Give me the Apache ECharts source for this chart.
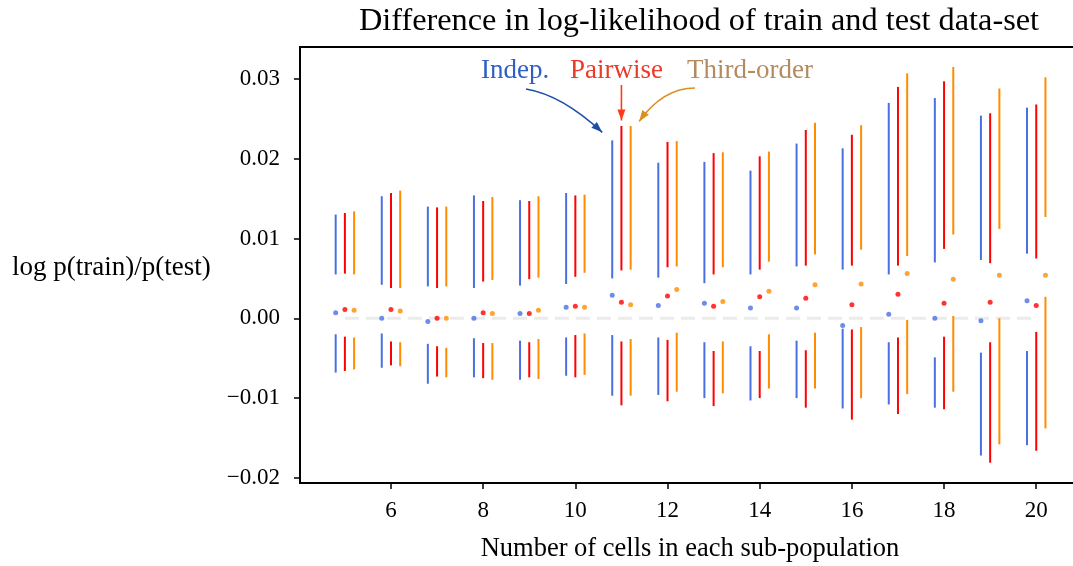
<!DOCTYPE html>
<html>
<head>
<meta charset="utf-8">
<title>Difference in log-likelihood of train and test data-set</title>
<script src="https://cdn.jsdelivr.net/npm/echarts@6/dist/echarts.min.js"></script>
<style>
  html, body { margin: 0; padding: 0; background: #fff; }
  #chart { width: 1073px; height: 566px; }
</style>
</head>
<body>
<div id="chart"></div>
<script>
// Number of cells in each sub-population
const cells = [5, 6, 7, 8, 9, 10, 11, 12, 13, 14, 15, 16, 17, 18, 19, 20];

// Independent model: mean and the two whisker pieces (upper: lo..hi, lower: hi..lo)
const indepMean  = [0.0007, 0.0000, -0.0004, 0.0000, 0.0006, 0.0014, 0.0029, 0.0016, 0.0019, 0.0013, 0.0013, -0.0009, 0.0005, 0.0000, -0.0003, 0.0022];
const indepUpLo  = [0.0055, 0.0042, 0.0040, 0.0038, 0.0041, 0.0043, 0.0050, 0.0051, 0.0044, 0.0055, 0.0065, 0.0061, 0.0055, 0.0070, 0.0073, 0.0081];
const indepUpHi  = [0.0130, 0.0153, 0.0140, 0.0154, 0.0148, 0.0157, 0.0223, 0.0195, 0.0196, 0.0185, 0.0219, 0.0213, 0.0270, 0.0276, 0.0254, 0.0264];
const indepLoHi  = [-0.0020, -0.0019, -0.0032, -0.0025, -0.0028, -0.0024, -0.0021, -0.0024, -0.0030, -0.0035, -0.0028, -0.0013, -0.0030, -0.0049, -0.0043, -0.0041];
const indepLoLo  = [-0.0068, -0.0062, -0.0082, -0.0074, -0.0077, -0.0072, -0.0097, -0.0096, -0.0100, -0.0103, -0.0100, -0.0113, -0.0108, -0.0112, -0.0172, -0.0159];

// Pairwise model
const pairMean   = [0.0011, 0.0011, 0.0000, 0.0007, 0.0006, 0.0015, 0.0020, 0.0028, 0.0015, 0.0027, 0.0025, 0.0017, 0.0030, 0.0019, 0.0020, 0.0016];
const pairUpLo   = [0.0056, 0.0038, 0.0038, 0.0046, 0.0049, 0.0052, 0.0060, 0.0064, 0.0055, 0.0061, 0.0066, 0.0066, 0.0066, 0.0087, 0.0069, 0.0075];
const pairUpHi   = [0.0132, 0.0157, 0.0139, 0.0147, 0.0147, 0.0154, 0.0241, 0.0221, 0.0207, 0.0203, 0.0236, 0.0230, 0.0290, 0.0297, 0.0257, 0.0268];
const pairLoHi   = [-0.0023, -0.0029, -0.0035, -0.0031, -0.0030, -0.0021, -0.0029, -0.0027, -0.0041, -0.0041, -0.0040, -0.0014, -0.0024, -0.0023, -0.0030, -0.0017];
const pairLoLo   = [-0.0066, -0.0059, -0.0073, -0.0075, -0.0074, -0.0074, -0.0109, -0.0104, -0.0110, -0.0100, -0.0112, -0.0127, -0.0120, -0.0114, -0.0181, -0.0166];

// Third-order model
const thirdMean  = [0.0010, 0.0009, 0.0000, 0.0006, 0.0010, 0.0014, 0.0017, 0.0036, 0.0021, 0.0034, 0.0042, 0.0043, 0.0056, 0.0049, 0.0054, 0.0054];
const thirdUpLo  = [0.0055, 0.0038, 0.0040, 0.0048, 0.0051, 0.0057, 0.0061, 0.0065, 0.0064, 0.0071, 0.0080, 0.0086, 0.0078, 0.0105, 0.0112, 0.0127];
const thirdUpHi  = [0.0134, 0.0160, 0.0140, 0.0152, 0.0153, 0.0155, 0.0241, 0.0222, 0.0208, 0.0209, 0.0245, 0.0242, 0.0307, 0.0315, 0.0288, 0.0302];
const thirdLoHi  = [-0.0024, -0.0030, -0.0037, -0.0031, -0.0026, -0.0019, -0.0026, -0.0018, -0.0029, -0.0020, -0.0018, -0.0011, -0.0002, 0.0003, 0.0000, 0.0027];
const thirdLoLo  = [-0.0064, -0.0060, -0.0074, -0.0077, -0.0076, -0.0071, -0.0097, -0.0092, -0.0094, -0.0088, -0.0088, -0.0100, -0.0095, -0.0092, -0.0158, -0.0138];

// Axis ticks
const xTicks = [6, 8, 10, 12, 14, 16, 18, 20];
const yTicks = [-0.02, -0.01, 0.00, 0.01, 0.02, 0.03];

const FONT = '"Liberation Serif", "DejaVu Serif", serif';

const models = [
  { name: 'Indep.',      color: '#4a6fe3', shift: -0.2, mean: indepMean, upLo: indepUpLo, upHi: indepUpHi, loHi: indepLoHi, loLo: indepLoLo },
  { name: 'Pairwise',    color: '#ff0000', shift: 0.0,  mean: pairMean,  upLo: pairUpLo,  upHi: pairUpHi,  loHi: pairLoHi,  loLo: pairLoLo },
  { name: 'Third-order', color: '#ff8c00', shift: 0.2,  mean: thirdMean, upLo: thirdUpLo, upHi: thirdUpHi, loHi: thirdLoHi, loLo: thirdLoLo }
];

const chart = echarts.init(document.getElementById('chart'), null, { renderer: 'canvas' });

const series = [];

// dashed zero reference line across the sampled range
series.push({
  type: 'line',
  data: [[cells[0], 0], [cells[cells.length - 1], 0]],
  symbol: 'none',
  silent: true,
  z: 1,
  lineStyle: { color: '#ebebeb', width: 3, type: [14, 7] }
});

models.forEach(m => {
  const rows = cells.map((c, i) => [c, m.upLo[i], m.upHi[i], m.loHi[i], m.loLo[i]]);
  series.push({
    type: 'custom',
    name: m.name,
    z: 3,
    data: rows,
    renderItem: (params, api) => {
      const x = api.value(0) + m.shift;
      const a1 = api.coord([x, api.value(1)]);
      const a2 = api.coord([x, api.value(2)]);
      const b1 = api.coord([x, api.value(3)]);
      const b2 = api.coord([x, api.value(4)]);
      const style = { stroke: m.color, lineWidth: 2 };
      return {
        type: 'group',
        children: [
          { type: 'line', shape: { x1: a1[0], y1: a1[1], x2: a2[0], y2: a2[1] }, style },
          { type: 'line', shape: { x1: b1[0], y1: b1[1], x2: b2[0], y2: b2[1] }, style }
        ]
      };
    }
  });
  series.push({
    type: 'scatter',
    name: m.name + ' mean',
    z: 4,
    symbolSize: 5,
    itemStyle: { color: m.color },
    data: cells.map((c, i) => [c + m.shift, m.mean[i]])
  });
});

const fmtY = v => {
  const r = Math.round(v * 100) / 100;
  return (r < 0 ? '\u2212' : '') + Math.abs(r).toFixed(2);
};

chart.setOption({
  animation: false,
  backgroundColor: '#ffffff',
  grid: {
    left: 300, top: 47, width: 798, bottom: 83,
    outerBoundsMode: 'none',
    containLabel: false,
    show: true, borderColor: '#000', borderWidth: 2, backgroundColor: 'transparent'
  },
  xAxis: {
    type: 'value',
    min: 4.026, max: 21.34,
    name: 'Number of cells in each sub-population',
    nameLocation: 'middle',
    nameGap: 53,
    nameTextStyle: { fontFamily: FONT, fontSize: 26.5, color: '#000', padding: [0, 18, 0, 0] },
    axisLine: { show: true, onZero: false, lineStyle: { color: '#000', width: 2 } },
    axisTick: { show: true, length: 6, customValues: xTicks, lineStyle: { color: '#000', width: 1.5 } },
    axisLabel: { customValues: xTicks, margin: 16, fontFamily: FONT, fontSize: 23, color: '#000' },
    splitLine: { show: false }
  },
  yAxis: {
    type: 'value',
    min: -0.02064, max: 0.034,
    axisLine: { show: true, onZero: false, lineStyle: { color: '#000', width: 2 } },
    axisTick: { show: true, length: 6, customValues: yTicks, lineStyle: { color: '#000', width: 1.5 } },
    axisLabel: { customValues: yTicks, margin: 20, fontFamily: FONT, fontSize: 23, color: '#000', formatter: fmtY },
    splitLine: { show: false }
  },
  series
});

// Annotations: labels with arrows pointing at the n = 11 whiskers
function arrowHead(tip, from, color, len, wid) {
  const dx = tip[0] - from[0], dy = tip[1] - from[1];
  const d = Math.hypot(dx, dy) || 1;
  const ux = dx / d, uy = dy / d;
  const bx = tip[0] - ux * len, by = tip[1] - uy * len;
  return {
    type: 'polygon',
    z: 10,
    shape: { points: [tip, [bx - uy * wid / 2, by + ux * wid / 2], [bx + uy * wid / 2, by - ux * wid / 2]] },
    style: { fill: color }
  };
}

const k = cells.indexOf(11);
const topOf = (mi) => chart.convertToPixel({ gridIndex: 0 }, [cells[k] + models[mi].shift, models[mi].upHi[k]]);
const pBlue = topOf(0), pRed = topOf(1), pOrange = topOf(2);

const blueTip = [pBlue[0] - 10, pBlue[1] - 8];
const blueStart = [526, 89];
const blueCtrl = [562, 95];

const redTip = [pRed[0], pRed[1] - 5.5];
const redStart = [redTip[0], 85];

const orangeTip = [pOrange[0] + 8.5, pOrange[1] - 4.6];
const orangeStart = [695, 88];
const orangeCtrl = [663, 88];

const blueArrow = '#1c4fa6', redArrow = '#ff3a1a', orangeArrow = '#dc8e20';

chart.setOption({
  graphic: [
    { type: 'text', x: 699, y: 22, z: 10,
      style: { text: 'Difference in log-likelihood of train and test data-set', fontFamily: FONT, fontSize: 32.3, fill: '#000', align: 'center', verticalAlign: 'middle' } },
    { type: 'text', x: 12, y: 268, z: 10,
      style: { text: 'log p(train)/p(test)', fontFamily: FONT, fontSize: 27, fill: '#000', align: 'left', verticalAlign: 'middle' } },

    { type: 'text', x: 481, y: 71, z: 10,
      style: { text: 'Indep.', fontFamily: FONT, fontSize: 27, fill: '#2f5fc4', align: 'left', verticalAlign: 'middle' } },
    { type: 'text', x: 570, y: 71, z: 10,
      style: { text: 'Pairwise', fontFamily: FONT, fontSize: 27, fill: '#ec3a2a', align: 'left', verticalAlign: 'middle' } },
    { type: 'text', x: 687, y: 71, z: 10,
      style: { text: 'Third-order', fontFamily: FONT, fontSize: 27, fill: '#b48a5e', align: 'left', verticalAlign: 'middle' } },

    { type: 'bezierCurve', z: 10,
      shape: { x1: blueStart[0], y1: blueStart[1], cpx1: blueCtrl[0], cpy1: blueCtrl[1], x2: blueTip[0], y2: blueTip[1] },
      style: { stroke: blueArrow, lineWidth: 1.6, fill: null } },
    arrowHead(blueTip, blueCtrl, blueArrow, 11, 8),

    { type: 'line', z: 10,
      shape: { x1: redStart[0], y1: redStart[1], x2: redTip[0], y2: redTip[1] },
      style: { stroke: redArrow, lineWidth: 1.6 } },
    arrowHead(redTip, redStart, redArrow, 11, 8),

    { type: 'bezierCurve', z: 10,
      shape: { x1: orangeStart[0], y1: orangeStart[1], cpx1: orangeCtrl[0], cpy1: orangeCtrl[1], x2: orangeTip[0], y2: orangeTip[1] },
      style: { stroke: orangeArrow, lineWidth: 1.6, fill: null } },
    arrowHead(orangeTip, orangeCtrl, orangeArrow, 11, 8)
  ]
});
</script>
</body>
</html>
